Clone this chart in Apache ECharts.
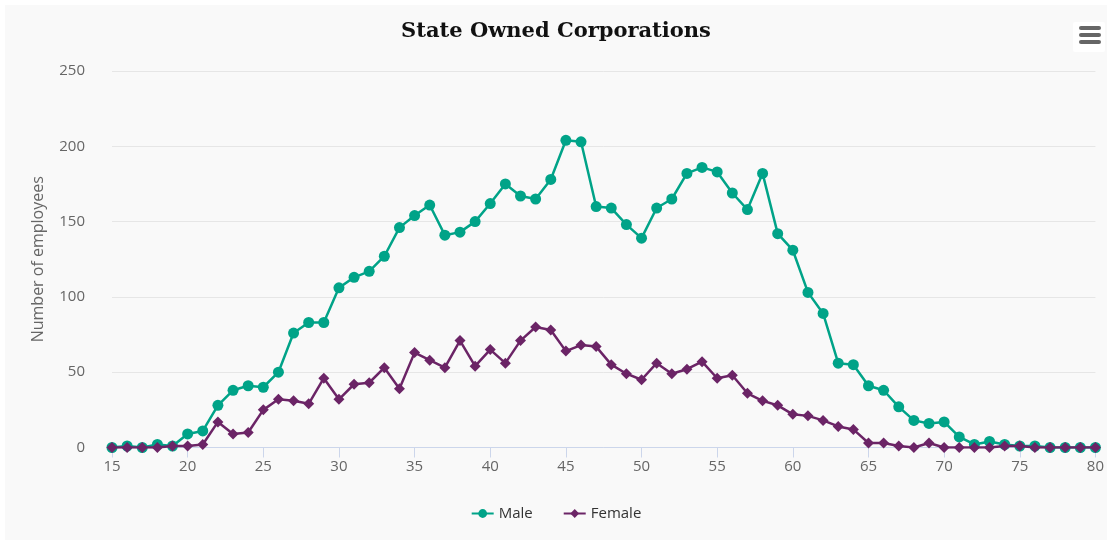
<!DOCTYPE html>
<html>
<head>
<meta charset="utf-8">
<script src="https://cdn.jsdelivr.net/npm/echarts@6/dist/echarts.min.js"></script>
<style>
  body { margin: 0; background: #fff; }
  #container { position: absolute; left: 5px; top: 5px; width: 1102px; height: 535px; }
</style>
</head>
<body>
<div id="container"></div>
<script>
// age of employee
var ages = [15, 16, 17, 18, 19, 20, 21, 22, 23, 24, 25, 26, 27, 28, 29, 30, 31, 32, 33, 34,
  35, 36, 37, 38, 39, 40, 41, 42, 43, 44, 45, 46, 47, 48, 49, 50, 51, 52, 53, 54,
  55, 56, 57, 58, 59, 60, 61, 62, 63, 64, 65, 66, 67, 68, 69, 70, 71, 72, 73, 74,
  75, 76, 77, 78, 79, 80];
var male = [0, 1, 0, 2, 1, 9, 11, 28, 38, 41, 40, 50, 76, 83, 83, 106, 113, 117, 127, 146,
  154, 161, 141, 143, 150, 162, 175, 167, 165, 178, 204, 203, 160, 159, 148, 139, 159, 165, 182, 186,
  183, 169, 158, 182, 142, 131, 103, 89, 56, 55, 41, 38, 27, 18, 16, 17, 7, 2, 4, 2,
  1, 1, 0, 0, 0, 0];
var female = [0, 0, 0, 0, 1, 1, 2, 17, 9, 10, 25, 32, 31, 29, 46, 32, 42, 43, 53, 39,
  63, 58, 53, 71, 54, 65, 56, 71, 80, 78, 64, 68, 67, 55, 49, 45, 56, 49, 52, 57,
  46, 48, 36, 31, 28, 22, 21, 18, 14, 12, 3, 3, 1, 0, 3, 0, 0, 0, 0, 1,
  1, 0, 0, 0, 0, 0];

function pairs(vals) {
  return ages.map(function (a, i) { return [a, vals[i]]; });
}

var chart = echarts.init(document.getElementById('container'), null, { renderer: 'canvas' });
var font = '"Open Sans", sans-serif';

var option = {
  backgroundColor: '#f9f9f9',
  animation: false,
  title: {
    text: 'State Owned Corporations',
    left: 'center',
    top: 11,
    textStyle: { fontFamily: '"DejaVu Serif", serif', fontSize: 21, fontWeight: 'bold', color: '#111' }
  },
  legend: {
    bottom: 14,
    left: 'center',
    itemWidth: 22,
    itemHeight: 11,
    itemGap: 30,
    textStyle: { fontFamily: font, fontSize: 15, color: '#333' },
    data: ['Male', 'Female']
  },
  grid: { left: 107, right: 10, top: 66, bottom: 92.5 },
  xAxis: {
    type: 'value',
    min: 15,
    max: 80,
    interval: 5,
    axisLine: { lineStyle: { color: '#ccd6eb', width: 1 } },
    axisTick: { show: true, length: 10, lineStyle: { color: '#ccd6eb' } },
    axisLabel: { color: '#666', fontFamily: font, fontSize: 15, margin: 12 },
    splitLine: { show: false }
  },
  yAxis: {
    type: 'value',
    min: 0,
    max: 250,
    interval: 50,
    name: 'Number of employees',
    nameLocation: 'middle',
    nameGap: 66,
    nameTextStyle: { color: '#666', fontFamily: font, fontSize: 16 },
    axisLine: { show: false },
    axisTick: { show: false },
    axisLabel: { color: '#666', fontFamily: font, fontSize: 15, margin: 27 },
    splitLine: { lineStyle: { color: '#e6e6e6' } }
  },
  graphic: [
    { type: 'rect', left: 1068, top: 17, shape: { width: 32, height: 30, r: 2 }, style: { fill: '#fff' } },
    { type: 'rect', left: 1074, top: 21, shape: { width: 22, height: 4, r: 2 }, style: { fill: '#666' } },
    { type: 'rect', left: 1074, top: 28, shape: { width: 22, height: 4, r: 2 }, style: { fill: '#666' } },
    { type: 'rect', left: 1074, top: 35, shape: { width: 22, height: 4, r: 2 }, style: { fill: '#666' } }
  ],
  series: [
    {
      name: 'Male',
      type: 'line',
      data: pairs(male),
      symbol: 'circle',
      symbolSize: 11,
      color: '#00a388',
      lineStyle: { width: 2.5 },
      z: 2
    },
    {
      name: 'Female',
      type: 'line',
      data: pairs(female),
      symbol: 'diamond',
      symbolSize: 11,
      color: '#6b2466',
      lineStyle: { width: 2.5 },
      z: 3
    }
  ]
};

chart.setOption(option);
window.addEventListener('resize', chart.resize);
</script>
</body>
</html>
